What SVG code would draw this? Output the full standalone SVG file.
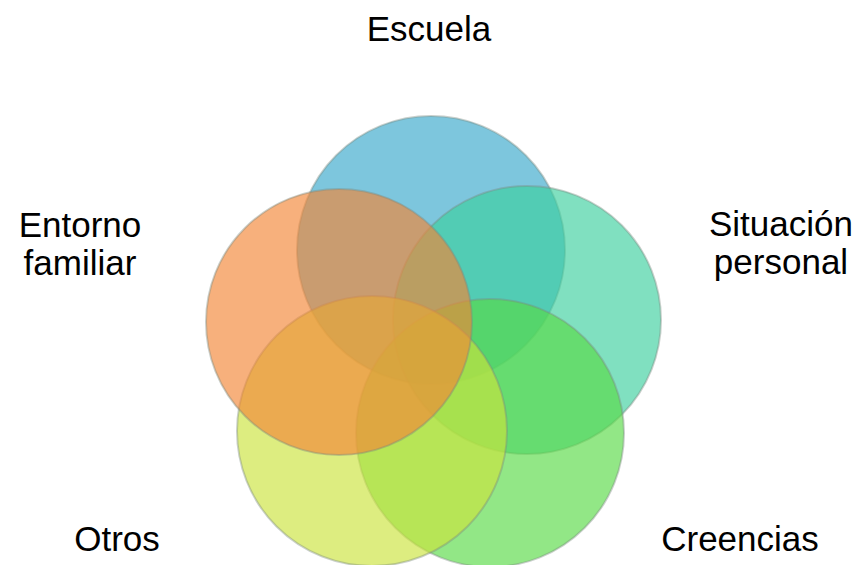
<svg xmlns="http://www.w3.org/2000/svg" width="860" height="565" viewBox="0 0 860 565">
<style>
.lbl{font-family:"Liberation Sans",Arial,sans-serif;font-size:35px;fill:#000;text-anchor:middle}
.c{fill-opacity:0.65;stroke:#7a8a80;stroke-opacity:0.4;stroke-width:2}
</style>
<rect width="860" height="565" fill="#fff"/>
<g id="escuela">
<circle class="c" cx="431" cy="250" r="134" fill="#38A7CB"/>
</g>
<g id="situacion">
<circle class="c" cx="527" cy="320" r="134" fill="#3CCF9E"/>
</g>
<g id="creencias">
<circle class="c" cx="490" cy="433" r="134" fill="#58DA45"/>
</g>
<g id="otros">
<circle class="c" cx="372" cy="431" r="135" fill="#CBE33C"/>
</g>
<g id="entorno">
<circle class="c" cx="339" cy="322" r="133" fill="#F38635"/>
</g>
<g id="connectors"></g>
<g id="labels">
<text class="lbl" x="429" y="41">Escuela</text>
<text class="lbl" x="80" y="237">Entorno</text>
<text class="lbl" x="80" y="275">familiar</text>
<text class="lbl" x="781" y="236">Situación</text>
<text class="lbl" x="781" y="274">personal</text>
<text class="lbl" x="117" y="551">Otros</text>
<text class="lbl" x="740" y="551">Creencias</text>
</g>
</svg>
